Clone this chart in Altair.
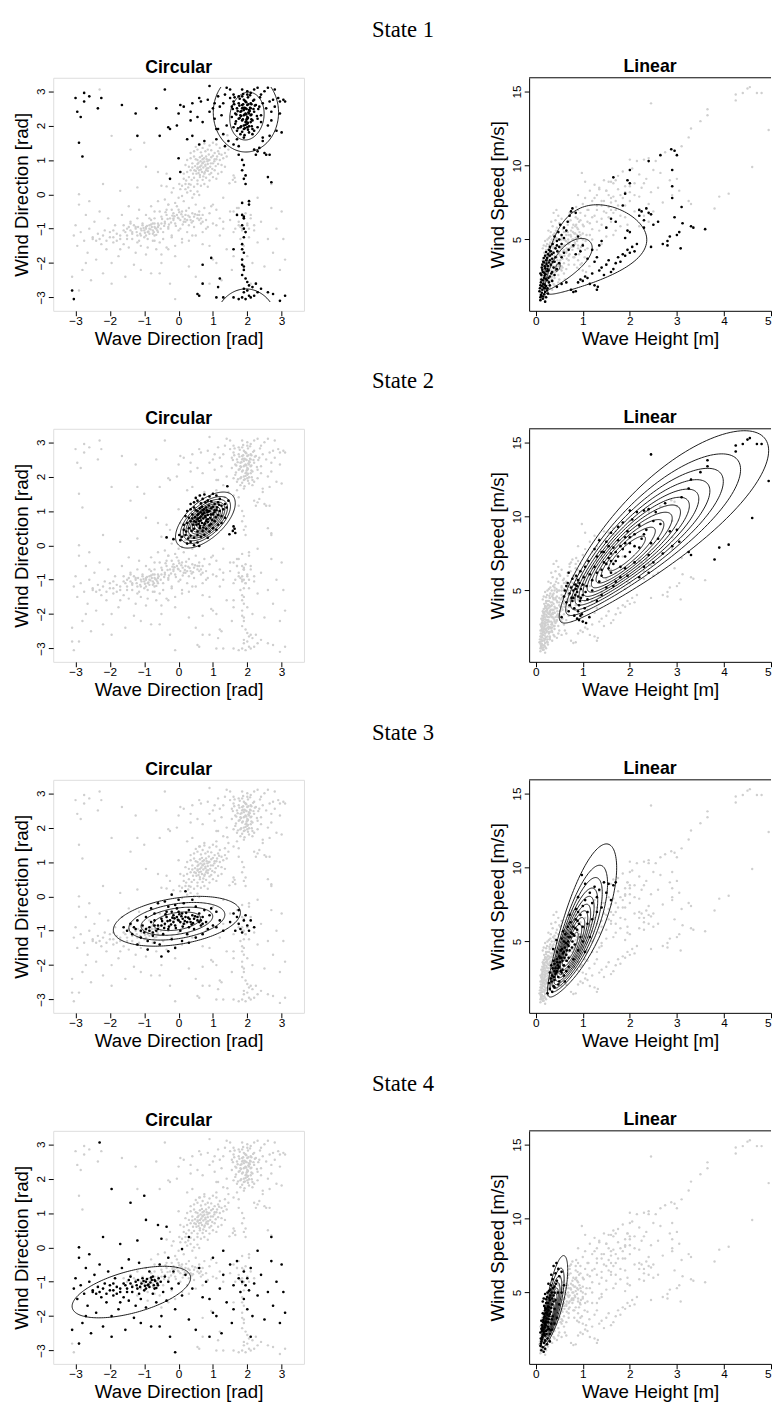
import altair as alt
import numpy as np
import pandas as pd

STATE_TITLES = ["State 1", "State 2", "State 3", "State 4"]
CIRC_TICKS = [-3, -2, -1, 0, 1, 2, 3]
LIN_XTICKS = [0, 1, 2, 3, 4, 5]
LIN_YTICKS = [5, 10, 15]
CIRC_XDOM = [-3.65, 3.65]
CIRC_YDOM = [-3.39, 3.39]
LIN_XDOM = [-0.14, 5.0]
LIN_YDOM = [0.18, 15.93]

# ---------------- circular panel points (wave direction, wind direction) per state
CIRC_S1 = [
    (1.9,2.3),(2.0,2.2),(1.8,2.4),(2.1,2.5),(1.95,2.1),(1.85,2.6),(2.05,2.35),(1.75,2.2),(2.15,2.15),(1.9,2.75),
    (2.0,2.9),(1.7,2.5),(2.2,2.4),(1.8,1.95),(2.05,1.8),(1.9,1.65),(2.1,2.65),(1.95,2.5),(1.85,2.15),(2.0,2.05),
    (1.65,2.35),(2.25,2.6),(1.6,2.7),(2.3,2.2),(1.75,2.85),(2.1,2.95),(1.85,3.05),(2.0,3.0),(1.7,1.85),(2.15,1.9),
    (1.9,1.9),(2.0,2.6),(1.8,2.3),(2.05,2.45),(1.95,2.35),(1.9,2.45),(2.1,2.3),(1.85,2.5),(2.0,2.25),(1.95,2.7),
    (1.75,2.65),(2.2,2.75),(1.65,2.05),(1.55,2.55),(2.35,2.55),(1.6,2.9),(2.4,2.9),(1.9,2.0),(2.0,1.95),(1.8,1.75),
    (2.15,1.75),(1.7,1.6),(2.3,1.95),(1.6,1.95),(2.4,2.3),(1.55,2.25),(1.5,2.8),(2.45,2.65),(2.1,2.1),(1.85,2.85),
    (1.92,2.32),(1.98,2.18),(1.83,2.42),(2.08,2.52),(1.97,2.12),(1.88,2.62),(2.03,2.38),(1.78,2.22),(2.12,2.18),(1.93,2.72),
    (1.72,2.42),(2.18,2.48),(1.82,1.98),(2.02,1.88),(1.92,1.72),(2.12,2.62),(1.98,2.48),(1.87,2.18),(2.02,2.08),(1.68,2.32),
    (2.22,2.58),(1.62,2.62),(2.28,2.28),(1.78,2.78),(2.08,2.88),(1.88,2.92),(2.02,2.82),(1.73,1.92),(2.13,1.98),(1.93,1.92),
    (2.03,2.62),(1.82,2.28),(2.07,2.42),(1.97,2.32),(1.92,2.52),(2.12,2.32),(1.87,2.52),(2.02,2.22),(1.97,2.68),(1.77,2.58),
    (2.17,2.72),(1.67,2.12),(1.58,2.48),(2.32,2.48),(1.63,2.82),(2.37,2.82),(1.95,2.02),(2.05,1.98),(1.85,1.82),(2.2,1.85),
    (1.3,2.65),(1.35,2.9),(1.25,2.3),(1.4,2.0),(1.3,1.75),(1.45,1.55),(1.6,1.45),(1.75,1.4),(2.2,1.3),(2.35,1.35),
    (2.5,1.2),(2.45,1.55),(2.65,1.7),(2.6,2.0),(2.7,2.4),(2.75,2.75),(2.8,3.05),(2.6,3.1),(2.5,3.0),(2.9,2.8),
    (2.95,2.7),(3.05,2.75),(3.1,2.7),(2.95,2.35),(3.0,1.8),(2.85,1.85),(2.65,1.15),(2.55,1.15),(2.4,2.1),(2.55,2.5),
    (2.7,2.15),(2.65,2.7),(1.2,2.55),(1.15,2.85),(1.4,3.1),(1.5,3.05),(1.15,1.9),(1.35,1.4),(2.45,1.65),(2.3,3.1),
    (2.2,3.05),(1.05,2.65),(1.1,1.6),(2.8,2.55),
    (-3.0,2.8),(-2.95,2.4),(-2.85,2.25),(-2.75,2.95),(-2.6,2.85),(-2.75,2.7),(-2.9,1.5),(-2.8,1.1),(-2.25,2.8),(-2.35,2.5),
    (-1.65,2.6),(-1.25,2.35),(-1.2,1.7),(-0.65,2.5),(-0.55,1.7),(-0.4,3.05),(-0.3,1.95),(-0.25,1.9),(-0.05,2.0),(0.0,2.35),
    (0.05,2.6),(0.15,2.55),(0.35,2.4),(0.25,1.6),(0.35,2.15),(0.4,2.65),(0.4,1.7),(0.55,2.25),(0.6,1.45),(0.6,2.8),
    (0.65,2.7),(0.7,2.1),(0.75,1.55),(0.9,3.15),(0.85,2.75),(0.9,2.4),(1.0,2.5),(1.05,2.2),(1.1,1.9),(0.0,1.05),
    (0.05,0.65),(-0.25,0.45),
    (1.85,1.0),(1.9,0.85),(1.95,0.55),(1.9,0.45),(1.95,0.3),(1.85,-0.25),(2.05,-0.3),(2.05,-0.2),(1.7,-0.6),(1.85,-0.6),
    (1.9,-0.7),(1.85,-0.9),(1.9,-1.0),(1.9,-1.25),(1.85,-1.45),(1.9,-1.7),(1.85,-1.9),(1.85,-2.05),(1.9,-2.1),(1.9,-2.2),
    (1.85,-2.35),(1.95,-2.45),(2.0,-2.55),(2.05,-2.65),(1.9,-2.75),(1.6,-1.6),(0.95,-1.85),(2.6,0.5),(2.7,0.35),(1.75,1.15),
    (2.25,1.15),(2.3,1.25),(1.85,0.7),(1.95,-1.1),(1.9,-0.65),(1.85,-1.6),
    (1.2,-2.45),(1.1,-3.0),(1.3,-3.0),(1.6,-3.0),(1.75,-3.05),(1.85,-3.0),(1.95,-3.05),(2.05,-2.95),(2.1,-3.0),(2.2,-2.95),
    (2.3,-2.85),(2.4,-2.75),(2.6,-2.85),(2.75,-2.9),(2.95,-3.1),(3.1,-2.95),(2.0,-2.8),(1.9,-2.85),(2.15,-2.7),(2.25,-2.6),
    (0.55,-2.9),(0.6,-2.95),(0.7,-2.6),(1.15,-2.7),(0.7,-2.05),(-3.1,-2.8),(-3.05,-3.05),
]
CIRC_S2 = [
    (0.5,1.38),(0.62,1.45),(0.75,1.48),(0.9,1.42),(1.0,1.5),(1.1,1.45),(1.2,1.35),(0.85,1.3),
    (0.35,1.2),(0.45,1.25),(0.55,1.3),(0.65,1.22),(0.78,1.25),(0.95,1.28),(1.05,1.2),(1.15,1.25),(1.25,1.15),(1.35,1.2),(0.7,1.35),
    (0.25,1.0),(0.35,1.05),(0.45,1.1),(0.55,1.0),(0.62,1.08),(0.7,1.02),(0.8,1.1),(0.88,1.0),(0.95,1.08),(1.05,1.02),
    (1.12,1.1),(1.2,1.0),(1.3,1.05),(1.4,1.1),(0.75,0.95),
    (0.2,0.85),(0.3,0.8),(0.4,0.9),(0.48,0.82),(0.55,0.88),(0.62,0.8),(0.7,0.9),(0.78,0.82),(0.85,0.88),(0.92,0.8),
    (1.0,0.9),(1.08,0.82),(1.15,0.88),(1.25,0.85),(1.35,0.8),(0.65,0.72),(0.82,0.75),
    (0.15,0.6),(0.25,0.65),(0.35,0.7),(0.42,0.6),(0.5,0.68),(0.58,0.62),(0.68,0.65),(0.75,0.6),(0.85,0.68),(0.95,0.62),
    (1.05,0.7),(1.15,0.6),(1.25,0.65),(0.55,0.75),
    (0.15,0.45),(0.22,0.4),(0.3,0.5),(0.38,0.42),(0.45,0.48),(0.55,0.4),(0.62,0.5),(0.7,0.42),(0.8,0.48),(0.9,0.4),
    (1.0,0.5),(1.1,0.45),
    (0.1,0.25),(0.2,0.3),(0.28,0.2),(0.35,0.28),(0.45,0.22),(0.55,0.3),(0.65,0.25),(0.75,0.3),(0.85,0.22),
    (0.25,0.05),(0.35,0.1),(0.45,0.0),(0.55,0.08),(0.6,-0.02),
    (0.72,0.78),(0.78,0.86),(0.66,0.84),(0.84,0.96),(0.6,0.7),(0.9,1.0),(0.7,0.92),(0.8,0.7),(0.56,0.78),(0.94,0.9),
    (0.74,1.05),(0.64,0.96),(0.86,0.76),(0.52,0.6),(1.0,1.12),(0.76,0.64),(0.68,1.12),(0.88,1.16),(0.46,0.7),(1.04,0.96),
    (0.58,0.92),(0.82,1.02),(0.98,0.74),(0.62,0.56),(0.72,0.52),(0.4,0.78),(1.1,1.02),(0.9,0.58),(0.5,1.02),(1.18,1.18),
    (-0.35,0.23),(-0.15,0.18),(1.42,1.72),(1.6,0.55),(1.63,0.48),(1.58,0.42),(1.65,0.36),(1.48,0.32),(1.45,1.3),(0.02,0.3),(0.05,0.15),
]
CIRC_S3 = [
    (-1.6,-0.9),(-1.5,-1.0),(-1.4,-0.8),(-1.35,-1.1),(-1.25,-0.95),(-1.2,-0.7),(-1.1,-1.2),(-1.05,-0.85),(-1.0,-1.05),(-0.95,-0.6),
    (-0.9,-1.3),(-0.85,-0.9),(-0.8,-0.75),(-0.75,-1.15),(-0.7,-0.5),(-0.65,-1.0),(-0.6,-0.85),(-0.55,-1.4),(-0.5,-0.65),(-0.45,-1.1),
    (-0.4,-0.8),(-0.35,-0.45),(-0.3,-0.95),(-0.25,-0.7),(-0.2,-1.25),(-0.15,-0.55),(-0.1,-0.85),(-0.05,-0.35),(0.0,-0.7),(0.05,-1.0),
    (0.1,-0.5),(0.15,-0.8),(0.2,-0.6),(0.25,-1.1),(0.3,-0.4),(0.35,-0.75),(0.4,-0.55),(0.45,-0.95),(0.5,-0.3),(0.55,-0.7),
    (0.6,-0.5),(0.65,-0.85),(0.7,-0.6),(0.75,-0.4),(0.8,-0.75),(0.9,-0.55),(1.0,-0.85),(1.1,-0.45),(1.2,-0.7),(1.3,-1.0),
    (-0.6,-0.2),(-0.4,-0.15),(-0.2,0.05),(0.0,-0.1),(0.2,0.15),(0.15,-0.2),(0.4,-0.1),(-0.1,-0.25),(-0.3,-0.3),(-0.8,-0.35),
    (0.1,-1.3),(-0.1,-1.5),(-0.3,-1.6),(-0.5,-1.75),(0.3,-1.35),(0.5,-1.2),(0.7,-1.1),(-0.7,-1.35),(-1.2,-1.4),(-0.9,-1.55),
    (1.6,-0.5),(1.7,-0.6),(1.75,-0.8),(1.8,-0.95),(1.85,-1.05),(1.9,-0.7),(1.95,-0.55),(2.0,-0.85),(2.05,-1.0),(1.75,-0.4),
    (2.1,-0.7),(1.65,-1.0),(1.5,-0.75),(2.2,-0.9),
    (-0.05,-0.6),(0.05,-0.75),(0.12,-0.65),(-0.15,-0.75),(0.25,-0.75),(-0.35,-0.6),(0.3,-0.9),(0.45,-0.65),(-0.5,-0.85),(-0.2,-0.45),
    (0.0,-0.45),(0.6,-0.75),(-0.7,-0.7),(0.85,-0.95),(0.95,-0.35),(1.1,-0.9),
    (-0.02,-0.68),(0.08,-0.58),(-0.12,-0.64),(0.18,-0.72),(-0.22,-0.82),(0.28,-0.62),(-0.32,-0.72),(0.38,-0.82),(-0.42,-0.92),(0.48,-0.58),
    (-0.08,-0.92),(0.02,-0.52),(0.12,-0.88),(-0.18,-0.62),(0.22,-0.48),(-0.28,-0.88),(0.32,-0.66),(-0.38,-0.52),(0.42,-0.78),(-0.48,-0.72),
    (-0.6,-0.95),(-0.7,-0.85),(-0.85,-1.0),(-0.75,-1.05),(-0.95,-0.95),(0.55,-0.6),(0.65,-0.7),(0.7,-0.8),(-1.1,-1.0),(-1.3,-0.9),
]
CIRC_S4 = [
    (-3.05,-1.2),(-3.0,-0.9),(-2.95,-1.5),(-2.9,-0.3),(-2.85,-1.1),(-2.8,-2.2),(-2.75,-1.35),(-2.7,-0.6),(-2.65,-1.7),(-2.6,-1.0),
    (-2.55,-2.5),(-2.5,-1.3),(-2.45,-0.8),(-2.4,-1.9),(-2.35,-1.15),(-2.3,-0.5),(-2.25,-1.45),(-2.2,-2.3),(-2.15,-1.05),(-2.1,-1.6),
    (-2.05,-0.7),(-2.0,-1.25),(-1.95,-2.0),(-1.9,-1.4),(-1.85,-0.9),(-1.8,-1.15),(-1.75,-1.8),(-1.7,-1.3),(-1.65,-0.6),(-1.6,-1.05),
    (-1.55,-2.4),(-1.5,-1.2),(-1.45,-1.55),(-1.4,-0.85),(-1.35,-1.3),(-1.3,-2.05),(-1.25,-1.0),(-1.2,-1.2),(-1.15,-0.45),(-1.1,-1.5),
    (-1.05,-0.9),(-1.0,-1.25),(-0.95,-1.75),(-0.9,-1.1),(-0.85,-0.7),(-0.8,-2.3),(-0.75,-1.35),(-0.7,-0.95),(-0.65,-1.6),(-0.6,-1.1),
    (-0.55,-0.5),(-0.5,-2.0),(-0.45,-1.3),(-0.4,-0.85),(-0.35,-1.55),(-0.3,-1.0),(-0.25,-2.6),(-0.2,-1.2),(-0.15,-0.7),(-0.1,-1.8),
    (0.0,-1.05),(0.1,-1.4),(0.2,-0.8),(0.3,-2.1),(0.4,-1.2),(-1.6,-1.45),(-1.35,-1.15),(-1.9,-1.05),(-2.2,-1.2),(-1.15,-1.35),
    (-0.95,-1.0),(-1.7,-1.6),(-2.4,-1.35),(-1.25,-1.7),(-0.7,-1.2),(-1.45,-0.95),(-2.7,-2.0),(-3.1,-2.4),(-2.9,-2.8),(-1.1,-2.2),
    (-0.55,-2.3),(-1.95,-2.6),(-2.6,-0.2),(-1.45,-0.35),(-0.3,-0.3),
    (-0.82,-1.02),(-0.78,-0.95),(-0.88,-1.08),(-0.72,-1.1),(-0.92,-0.92),(-0.68,-0.98),(-0.98,-1.12),(-0.62,-1.05),(-1.02,-0.98),(-0.58,-0.9),
    (-1.08,-1.05),(-0.85,-1.15),(-0.75,-0.85),(-1.12,-1.15),(-0.65,-1.18),(-1.18,-0.95),(-0.52,-1.0),(-1.22,-1.1),(-0.95,-1.2),(-0.8,-0.88),
    (-1.5,-1.3),(-1.7,-1.2),(-1.9,-1.25),(-2.1,-1.35),(-2.3,-1.3),(-1.55,-1.1),(-1.8,-1.35),(-2.0,-1.1),(-1.4,-1.05),(-2.5,-1.25),
    (-2.3,3.05),(-1.95,1.7),(-1.4,1.3),(-1.0,1.5),(-0.95,0.8),(-0.6,0.65),(-0.5,0.25),(-0.35,0.6),(-1.7,0.1),(-2.2,0.3),
    (-0.1,-3.05),(0.1,-0.05),(-1.2,0.2),(0.3,0.3),(-2.9,0.0),
    (0.6,-0.6),(0.8,-1.0),(0.9,-1.5),(1.0,-0.3),(1.1,-2.0),(1.2,-1.2),(1.3,-0.8),(1.4,-1.6),(1.5,-0.5),(1.55,-2.2),
    (1.6,-1.1),(1.7,-0.4),(1.75,-0.9),(1.8,-1.3),(1.85,-1.0),(1.9,-0.7),(1.9,-1.5),(1.95,-1.1),(2.0,-0.9),(2.0,-1.8),
    (2.05,-1.25),(2.1,-0.6),(2.15,-2.0),(2.2,-1.05),(2.3,-1.4),(2.4,-0.8),(2.5,-2.1),(2.6,-1.3),(2.7,-0.4),(2.75,-1.7),
    (2.85,-1.0),(2.95,-2.2),(3.0,-0.5),(3.05,-1.3),(3.1,-1.9),(0.5,-2.4),(0.9,-2.6),(1.3,-0.1),(2.3,-0.1),(2.7,0.3),
    (2.1,-2.6),(1.0,-1.9),(0.7,-1.45),(1.6,-1.8),(1.25,-2.5),
]

# ---------------- linear panel points (wave height, wind speed) per state
LIN_S1 = [
    (0.1,0.9),(0.15,1.0),(0.2,0.8),(0.12,1.2),(0.18,1.3),(0.22,1.1),(0.08,1.5),(0.14,1.6),(0.2,1.45),(0.25,1.7),
    (0.1,1.9),(0.16,2.0),(0.22,1.85),(0.28,2.1),(0.12,2.3),(0.18,2.4),(0.24,2.25),(0.3,2.5),(0.1,2.7),(0.15,2.8),
    (0.21,2.65),(0.27,2.9),(0.13,3.1),(0.19,3.2),(0.25,3.0),(0.32,3.3),(0.16,3.5),(0.22,3.6),(0.28,3.45),(0.35,3.7),
    (0.2,3.9),(0.26,4.0),(0.32,4.2),(0.38,4.1),(0.3,4.5),(0.42,4.4),(0.36,4.7),(0.45,4.9),(0.4,5.2),(0.5,5.0),
    (0.48,5.5),(0.55,5.3),(0.6,5.8),(0.52,6.0),(0.65,5.6),(0.68,6.2),(0.75,6.9),(0.78,7.1),(0.72,6.6),(0.85,6.8),
    (0.1,1.1),(0.13,1.4),(0.17,1.75),(0.11,2.1),(0.19,2.55),(0.14,2.95),(0.23,3.35),(0.17,3.75),(0.3,3.9),(0.24,1.55),
    (0.3,1.9),(0.35,2.2),(0.4,2.6),(0.45,3.0),(0.5,3.4),(0.4,3.5),(0.55,3.8),(0.6,4.1),(0.35,2.8),(0.45,4.6),
    (0.11,1.25),(0.16,1.15),(0.13,1.85),(0.19,1.95),(0.15,2.25),(0.21,2.35),(0.12,2.6),(0.18,2.75),(0.24,2.85),(0.14,3.3),
    (0.2,3.05),(0.26,3.2),(0.18,3.45),(0.24,3.75),(0.3,3.6),(0.22,4.15),(0.28,4.3),(0.34,4.0),(0.26,1.35),(0.09,1.7),
    (0.2,1.7),(0.27,2.4),(0.33,2.7),(0.38,3.1),(0.36,3.5),(0.42,3.8),(0.46,4.2),(0.5,4.5),(0.55,4.7),(0.6,5.1),
    (0.45,1.8),(0.55,2.0),(0.65,2.1),(0.75,1.6),(0.8,1.45),(0.85,1.5),(0.9,2.1),(0.95,2.3),(1.0,2.2),(1.05,2.5),
    (1.1,2.4),(1.15,2.0),(1.2,2.7),(1.25,1.9),(1.3,1.6),(1.32,1.8),(1.35,2.9),(1.4,3.1),(1.45,2.6),(1.5,3.3),
    (1.55,3.6),(1.6,2.8),(1.65,3.0),(1.7,3.4),(1.75,3.8),(1.8,3.5),(1.85,4.0),(1.9,3.9),(1.95,4.3),(2.0,4.1),
    (2.05,4.5),(2.1,4.2),(2.15,4.7),(1.25,3.5),(1.3,3.8),(1.1,3.7),(0.95,4.2),(1.0,4.6),(0.85,4.0),(0.8,4.6),
    (0.7,4.3),(0.9,5.2),(1.4,4.9),(1.35,4.6),(1.2,4.3),(1.5,5.8),(1.6,6.4),(1.7,6.2),
    (1.65,9.2),(1.85,7.3),(1.9,8.1),(1.95,9.0),(2.0,9.7),(2.0,8.8),(1.95,5.6),(1.9,5.1),(2.0,5.5),(2.2,6.6),
    (2.25,6.9),(2.3,6.3),(2.35,7.1),(2.4,6.8),(2.45,6.7),(2.2,7.0),(2.4,10.3),(2.45,4.5),(2.6,6.2),(2.65,10.7),
    (2.7,4.7),(2.8,4.9),(2.85,5.2),(2.8,4.6),(2.9,8.6),(2.9,9.7),(2.88,11.1),(2.95,11.0),(3.0,10.7),(2.95,6.5),
    (2.9,7.8),(3.0,5.3),(3.05,5.5),(3.08,4.4),(3.1,7.2),(3.12,6.1),(3.3,5.9),(3.35,5.8),(3.6,5.7),(2.5,6.0),(2.3,5.8),
]
LIN_S2 = [
    (0.55,3.2),(0.6,4.6),(0.62,5.0),(0.65,4.2),(0.68,5.5),(0.7,3.6),(0.72,4.8),(0.75,5.2),(0.78,5.8),(0.8,4.5),
    (0.82,3.3),(0.84,5.4),(0.86,6.0),(0.88,4.9),(0.9,3.6),(0.9,5.7),(0.92,3.0),(0.94,4.3),(0.95,6.3),(0.96,5.1),
    (0.98,3.4),(1.0,4.7),(1.0,2.9),(1.02,5.9),(1.04,3.8),(1.05,6.6),(1.07,2.8),(1.08,5.3),(1.1,4.4),(1.12,7.0),
    (1.14,3.2),(1.15,6.1),(0.85,5.1),(0.76,4.5),(0.7,6.2),(0.93,5.5),(0.8,5.0),(0.65,5.3),(0.88,3.1),(0.95,3.3),
    (0.72,4.0),(0.78,4.3),(0.84,4.7),(0.88,5.3),(0.92,4.0),(0.96,4.5),(1.0,5.4),(1.06,4.9),(0.82,3.8),(0.9,4.6),
    (1.2,5.0),(1.25,6.6),(1.3,7.3),(1.3,4.3),(1.35,5.6),(1.4,7.6),(1.4,4.7),(1.45,6.9),(1.5,8.3),(1.5,5.2),
    (1.55,7.2),(1.6,6.2),(1.6,8.9),(1.65,7.9),(1.7,5.6),(1.7,7.0),(1.75,9.3),(1.75,8.4),(1.8,6.6),(1.85,7.8),
    (1.85,9.6),(1.9,8.6),(1.9,7.3),(1.95,6.0),(1.95,9.0),(2.0,8.2),(2.0,7.6),(2.05,9.8),(2.1,6.9),(2.1,8.8),
    (2.15,10.3),(2.2,7.9),(2.2,9.4),(2.25,8.5),(2.3,10.4),(2.3,6.6),(2.35,9.1),(2.4,7.4),(2.4,10.5),(2.45,8.2),
    (2.5,9.7),(2.5,6.9),(2.55,10.3),(2.6,8.5),(2.65,9.5),(2.7,7.5),(2.75,10.9),(2.85,9.0),(2.9,8.0),(3.0,9.1),
    (3.05,8.3),(1.4,6.0),(1.55,6.5),(1.65,5.3),(1.8,5.9),(1.2,5.7),(1.3,6.2),(1.45,7.6),(1.6,7.5),(2.0,10.4),
    (1.75,7.3),(1.55,8.0),(1.25,7.8),(1.35,8.4),(1.9,6.5),(2.2,5.9),(2.4,6.2),
    (1.6,7.0),(1.7,7.6),(1.8,8.0),(1.9,8.2),(2.0,8.6),(1.5,6.8),(1.4,6.4),(2.1,8.0),(1.65,6.8),(2.3,8.8),
    (2.45,14.2),(3.1,11.3),(3.25,11.9),(3.3,12.5),(3.25,7.6),(3.3,7.4),(3.5,13.0),(3.65,13.4),(3.65,13.8),(3.8,7.1),
    (3.9,7.9),(4.1,8.1),(4.25,14.4),(4.25,14.8),(4.4,14.9),(4.5,15.2),(4.55,15.3),(4.6,9.9),(4.7,14.9),(4.8,14.9),(4.95,12.4),
]
LIN_S3 = [
    (0.25,1.5),(0.3,1.8),(0.28,2.2),(0.35,1.6),(0.32,2.5),(0.38,2.0),(0.3,2.9),(0.36,3.2),(0.4,2.4),(0.42,2.8),
    (0.45,3.0),(0.4,3.5),(0.48,2.6),(0.5,3.3),(0.45,3.8),(0.52,3.6),(0.55,2.9),(0.5,4.0),(0.58,4.2),(0.55,3.9),
    (0.6,3.4),(0.62,4.6),(0.6,5.0),(0.65,4.1),(0.68,4.8),(0.7,5.3),(0.66,3.7),(0.72,4.4),(0.75,5.6),(0.78,5.0),
    (0.8,6.0),(0.74,6.3),(0.82,5.4),(0.85,6.5),(0.88,5.8),(0.9,7.0),(0.92,6.2),(0.95,6.8),(1.0,7.4),(1.0,6.0),
    (1.05,7.8),(1.1,7.0),(1.15,8.3),(1.2,7.6),(1.25,8.7),(1.3,8.0),(1.35,8.5),(1.4,7.3),(1.45,9.0),(1.5,8.3),
    (1.55,8.9),(1.6,7.8),(1.65,8.8),(1.7,9.0),(0.35,2.7),(0.42,3.2),(0.47,3.4),(0.38,3.7),(0.53,4.4),(0.57,3.1),
    (0.63,5.5),(0.7,3.9),(0.77,4.6),(0.83,4.8),(0.86,7.2),(0.95,5.3),(1.1,6.2),(1.2,6.5),(1.3,7.0),(0.45,4.3),
    (0.5,2.3),(0.6,2.7),(0.65,3.0),(0.7,3.3),(0.8,3.8),(0.9,4.4),(1.0,5.0),(0.33,3.4),(0.55,5.2),(0.68,6.0),
    (1.05,4.3),(1.15,5.3),(0.4,1.9),(0.48,2.1),(0.58,5.7),(0.72,6.8),(0.9,8.0),(1.05,8.9),(0.98,9.5),(0.62,2.3),
    (0.37,4.5),(0.44,5.1),
    (0.34,2.3),(0.39,2.6),(0.44,2.9),(0.46,3.6),(0.52,3.9),(0.56,4.5),(0.6,4.3),(0.64,4.9),(0.69,5.0),(0.74,5.3),
    (0.4,3.0),(0.48,3.2),(0.53,3.0),(0.57,3.7),(0.61,3.9),(0.66,4.4),(0.7,4.7),(0.79,5.5),(0.84,5.9),(0.89,6.4),
]
LIN_S4 = [
    (0.1,1.4),(0.12,1.7),(0.15,1.3),(0.14,2.0),(0.18,1.6),(0.1,2.3),(0.16,2.5),(0.2,2.1),(0.13,2.8),(0.19,2.9),
    (0.22,2.4),(0.12,3.1),(0.17,3.3),(0.23,3.0),(0.26,2.7),(0.15,3.6),(0.2,3.8),(0.25,3.5),(0.28,3.2),(0.18,4.1),
    (0.22,4.3),(0.28,4.0),(0.32,3.7),(0.24,4.7),(0.3,4.5),(0.35,4.2),(0.28,5.1),(0.34,5.0),(0.38,4.8),(0.32,5.5),
    (0.4,5.4),(0.36,5.9),(0.45,5.8),(0.42,6.3),(0.5,6.1),(0.48,6.6),(0.3,2.2),(0.33,2.9),(0.36,3.4),(0.4,3.9),
    (0.42,4.5),(0.47,5.0),(0.25,1.9),(0.2,1.2),(0.11,1.9),(0.14,2.6),(0.16,3.0),(0.19,3.4),(0.21,3.6),(0.23,3.9),
    (0.26,4.3),(0.29,3.4),(0.31,4.8),(0.25,2.5),(0.18,2.2),(0.13,2.4),(0.21,2.8),(0.27,3.8),(0.34,3.2),(0.38,4.4),
    (0.5,4.2),(0.55,5.0),(0.45,3.3),(0.6,5.5),(0.55,6.4),(0.12,1.1),(0.17,1.0),(0.24,1.5),(0.3,1.7),(0.35,2.5),
    (0.4,2.9),(0.15,4.4),(0.2,4.9),(0.27,5.6),(0.33,6.2),(0.38,6.8),(0.44,7.0),
    (0.11,1.55),(0.13,1.85),(0.15,2.15),(0.17,2.35),(0.12,2.55),(0.19,2.65),(0.14,2.75),(0.21,3.05),(0.16,3.15),(0.23,3.25),
    (0.18,3.55),(0.24,3.65),(0.2,3.95),(0.26,4.05),(0.22,4.55),(0.29,4.65),(0.25,5.0),(0.31,5.2),(0.27,3.0),(0.3,3.55),
    (0.33,3.95),(0.35,4.6),(0.37,5.3),(0.2,1.75),(0.23,2.2),(0.28,2.55),(0.32,2.45),(0.17,4.6),(0.4,5.0),(0.43,5.6),
]

# ---------------- contour descriptions
# (power transform, x-min, x-max, y-min, y-max, tilt, relative contour sizes)
FR4 = [1.0, 0.755, 0.564, 0.372]
FR8 = [1.0, 0.827, 0.707, 0.607, 0.517, 0.429, 0.338, 0.231]
FR10 = [1.0, 0.84, 0.74, 0.65, 0.575, 0.50, 0.435, 0.365, 0.29, 0.2]
FR11 = [1.0, 0.848, 0.747, 0.664, 0.592, 0.528, 0.465, 0.404, 0.34, 0.271, 0.187]
CIRC_CONTOURS = [
    [(1.0, 1.01, 2.91, 1.23, 3.53, 0.0, [1.0]), (1.0, 1.49, 2.49, 1.58, 2.97, 0.1, [1.0])],
    [(1.0, -0.09, 1.65, -0.08, 1.55, 0.6, FR10)],
    [(1.0, -1.9, 1.8, -1.45, 0.0, 0.35, FR4)],
    [(1.0, -3.1, 0.35, -2.05, -0.55, 0.55, [1.0])],
]
LIN_CONTOURS = [
    [(0.0, 0.17, 2.36, 1.3, 7.35, 0.55, [1.0]), (0.0, 0.2, 1.2, 1.6, 5.07, 0.77, [1.0]),
     (0.0, 0.42, 0.52, 2.85, 3.4, 0.5, [1.0])],
    [(0.3, 0.5, 4.95, 2.8, 15.8, 0.87, FR11)],
    [(0.3, 0.25, 1.72, 1.25, 11.6, 0.82, FR10)],
    [(0.3, 0.12, 0.68, 1.3, 7.5, 0.8, FR8)],
]


def fwd(v, lam):
    v = np.asarray(v, dtype=float)
    return np.log(v) if lam == 0 else (v ** lam - 1) / lam


def inv(t, lam):
    return np.exp(t) if lam == 0 else (1 + lam * t) ** (1 / lam)


def contour_frame(groups, wrap):
    rows = []
    phi = np.linspace(0, 2 * np.pi, 181)
    cid = 0
    for (lam, x0, x1, y0, y1, rho, fracs) in groups:
        u0, u1 = fwd(x0, lam), fwd(x1, lam)
        v0, v1 = fwd(y0, lam), fwd(y1, lam)
        cu, cv, hu, hv = (u0 + u1) / 2, (v0 + v1) / 2, (u1 - u0) / 2, (v1 - v0) / 2
        for f in fracs:
            u = cu + f * hu * np.cos(phi)
            v = cv + f * hv * (rho * np.cos(phi) + np.sqrt(1 - rho ** 2) * np.sin(phi))
            xs, ys = inv(u, lam), inv(v, lam)
            seg = 0
            prev = None
            for i, (a, b) in enumerate(zip(xs, ys)):
                part = 0
                if wrap and b > np.pi:
                    b -= 2 * np.pi
                    part = 1
                if prev is not None and part != prev:
                    seg += 1
                prev = part
                rows.append({"x": float(a), "y": float(b), "cid": f"{cid}-{seg}", "ord": i})
            cid += 1
    return pd.DataFrame(rows)


def points_frame(sets):
    rows = []
    for k, pts in enumerate(sets):
        for (a, b) in pts:
            rows.append({"x": a, "y": b, "state": k + 1})
    return pd.DataFrame(rows)


circ_all = points_frame([CIRC_S1, CIRC_S2, CIRC_S3, CIRC_S4])
lin_all = points_frame([LIN_S1, LIN_S2, LIN_S3, LIN_S4])

FONT = "Liberation Sans"
GREY = "#cfcfcf"


def axis(title, values, vertical, domain):
    kw = dict(values=values, title=title, grid=False, domain=domain, domainColor="black", domainWidth=1,
              ticks=True, tickSize=5, tickColor="black", tickWidth=1, labelColor="black", labelFont=FONT,
              labelFontSize=12, titleFont=FONT, titleFontSize=19, titleFontWeight="normal", titleColor="black",
              labelOverlap=False, labelBound=False)
    if vertical:
        kw.update(labelAngle=270, labelAlign="center", labelBaseline="bottom", labelPadding=1, titlePadding=3)
    else:
        kw.update(labelPadding=0, titlePadding=3, labelFlush=3)
    return alt.Axis(**kw)


def panel(all_df, state, groups, kind):
    if kind == "circ":
        xs = alt.Scale(domain=CIRC_XDOM, nice=False, zero=False)
        ys = alt.Scale(domain=CIRC_YDOM, nice=False, zero=False)
        xa = axis("Wave Direction [rad]", CIRC_TICKS, False, False)
        ya = axis("Wind Direction [rad]", CIRC_TICKS, True, False)
        title, width = "Circular", 255
    else:
        xs = alt.Scale(domain=LIN_XDOM, nice=False, zero=False)
        ys = alt.Scale(domain=LIN_YDOM, nice=False, zero=False)
        xa = axis("Wave Height [m]", LIN_XTICKS, False, True)
        ya = axis("Wind Speed [m/s]", LIN_YTICKS, True, True)
        title, width = "Linear", 246
    X = alt.X("x:Q", scale=xs, axis=xa)
    Y = alt.Y("y:Q", scale=ys, axis=ya)
    grey = alt.Chart(all_df).mark_circle(color=GREY, size=6, opacity=1).encode(x=X, y=Y)
    black = (alt.Chart(all_df[all_df.state == state]).mark_circle(color="black", size=7, opacity=1)
             .encode(x=X, y=Y))
    cdf = contour_frame(groups, wrap=(kind == "circ"))
    lines = (alt.Chart(cdf).mark_line(color="black", strokeWidth=0.9, clip=True)
             .encode(x=X, y=Y, detail="cid:N", order="ord:Q"))
    layers = [grey, black, lines]
    props = dict(width=width, height=237,
                 title=alt.TitleParams(title, font=FONT, fontSize=18, fontWeight="bold", color="black",
                                       anchor="middle", offset=1))
    if kind == "lin":
        top = (alt.Chart(pd.DataFrame({"y": [LIN_YDOM[1]]})).mark_rule(color="black", strokeWidth=1)
               .encode(y=Y))
        layers.append(top)
        props["view"] = alt.ViewBackground(stroke="transparent")
    return alt.layer(*layers).properties(**props)


rows = []
for k in range(4):
    c = panel(circ_all, k + 1, CIRC_CONTOURS[k], "circ")
    l = panel(lin_all, k + 1, LIN_CONTOURS[k], "lin")
    row = alt.hconcat(c, l, spacing=186).properties(
        title=alt.TitleParams(STATE_TITLES[k], font="Liberation Serif", fontSize=23, fontWeight="normal",
                              color="black", anchor="middle", offset=16, dx=11))
    rows.append(row)

chart = (alt.vconcat(*rows, spacing=22)
         .properties(padding={"left": 4, "top": 0, "right": 0, "bottom": 0})
         .configure_view(stroke="black", strokeWidth=1)
         .configure(background="white"))

chart.save("out.html", embed_options={"renderer": "svg", "actions": False})
